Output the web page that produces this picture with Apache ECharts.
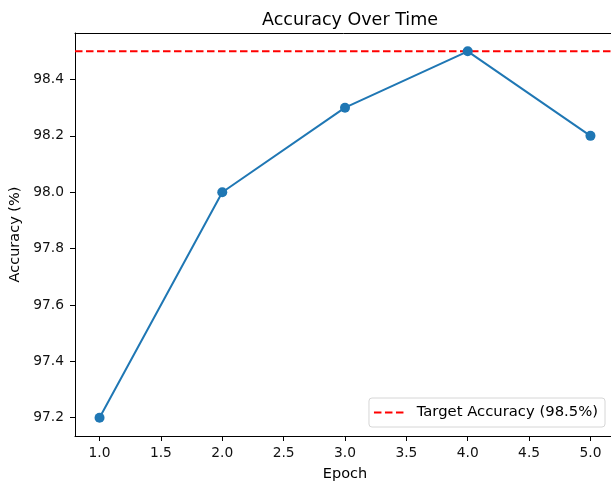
<!DOCTYPE html>
<html><head><meta charset="utf-8">
<script src="https://cdn.jsdelivr.net/npm/echarts@6/dist/echarts.min.js"></script>
<style>html,body{margin:0;padding:0;background:#fff}#c{width:611px;height:484px}</style>
</head><body><div id="c"></div>
<script>
const epochs = [1, 2, 3, 4, 5];
const accuracy = [97.2, 98.0, 98.3, 98.5, 98.2];
const targetAccuracy = 98.5;
const xTicks = [1.0, 1.5, 2.0, 2.5, 3.0, 3.5, 4.0, 4.5, 5.0];
const yTicks = [97.2, 97.4, 97.6, 97.8, 98.0, 98.2, 98.4];

const font = 'DejaVu Sans';
const chart = echarts.init(document.getElementById('c'), null, {renderer: 'canvas'});
chart.setOption({
  animation: false,
  backgroundColor: '#fff',
  title: {
    text: 'Accuracy Over Time', left: 345, top: 6, textAlign: 'center',
    textStyle: {fontFamily: font, fontWeight: 'normal', fontSize: 17.5, color: '#000'}
  },
  grid: {left: 75, top: 33, right: -4, bottom: 48, containLabel: false, outerBoundsMode: 'none'},
  legend: {
    data: [{name: 'Target Accuracy (98.5%)',
      icon: 'path://M0,0h7.5v2h-7.5z M11,0h7.5v2h-7.5z M22,0h7.5v2h-7.5z'}],
    right: 6, top: 398, orient: 'vertical',
    itemWidth: 30, itemHeight: 2,
    padding: [7, 7, 7, 5],
    backgroundColor: 'rgba(255,255,255,0.8)',
    borderColor: '#d6d6d6', borderWidth: 1, borderRadius: 3,
    itemStyle: {color: '#ff0000'},
    textStyle: {fontFamily: font, fontSize: 14.8, color: '#000', padding: [0, 0, 0, 8]}
  },
  xAxis: [{
    type: 'value', min: 0.8, max: 5.2, position: 'bottom',
    name: 'Epoch', nameLocation: 'middle', nameGap: 31,
    nameTextStyle: {fontFamily: font, fontSize: 14.5, color: '#000'},
    axisLine: {show: true, onZero: false, lineStyle: {color: '#000', width: 1}},
    axisTick: {show: true, customValues: xTicks, length: 5, lineStyle: {color: '#000'}},
    axisLabel: {customValues: xTicks, fontFamily: font, fontSize: 13.8, color: '#111', margin: 10,
      formatter: v => v.toFixed(1)},
    splitLine: {show: false}
  }, {
    type: 'value', min: 0.8, max: 5.2, position: 'top',
    axisLine: {show: true, onZero: false, lineStyle: {color: '#000', width: 1}},
    axisTick: {show: false}, axisLabel: {show: false}, splitLine: {show: false}
  }],
  yAxis: {
    type: 'value', min: 97.135, max: 98.565,
    name: 'Accuracy (%)', nameLocation: 'middle', nameGap: 51, nameRotate: 90,
    nameTextStyle: {fontFamily: font, fontSize: 14.5, color: '#000'},
    axisLine: {show: true, onZero: false, lineStyle: {color: '#000', width: 1}},
    axisTick: {show: true, customValues: yTicks, length: 5, lineStyle: {color: '#000'}},
    axisLabel: {customValues: yTicks, fontFamily: font, fontSize: 13.8, color: '#111', margin: 11,
      formatter: v => v.toFixed(1)},
    splitLine: {show: false}
  },
  series: [
    {
      name: 'Accuracy', type: 'line',
      data: epochs.map((e, i) => [e, accuracy[i]]),
      symbol: 'circle', symbolSize: 10,
      lineStyle: {color: '#1f77b4', width: 2},
      itemStyle: {color: '#1f77b4'},
      z: 3
    },
    {
      name: 'Target Accuracy (98.5%)', type: 'line',
      data: [[0.8, targetAccuracy], [5.2, targetAccuracy]],
      symbol: 'none',
      lineStyle: {color: '#ff0000', width: 2, type: [7.5, 3.5]},
      itemStyle: {color: '#ff0000'},
      z: 2
    }
  ]
});
</script></body></html>
